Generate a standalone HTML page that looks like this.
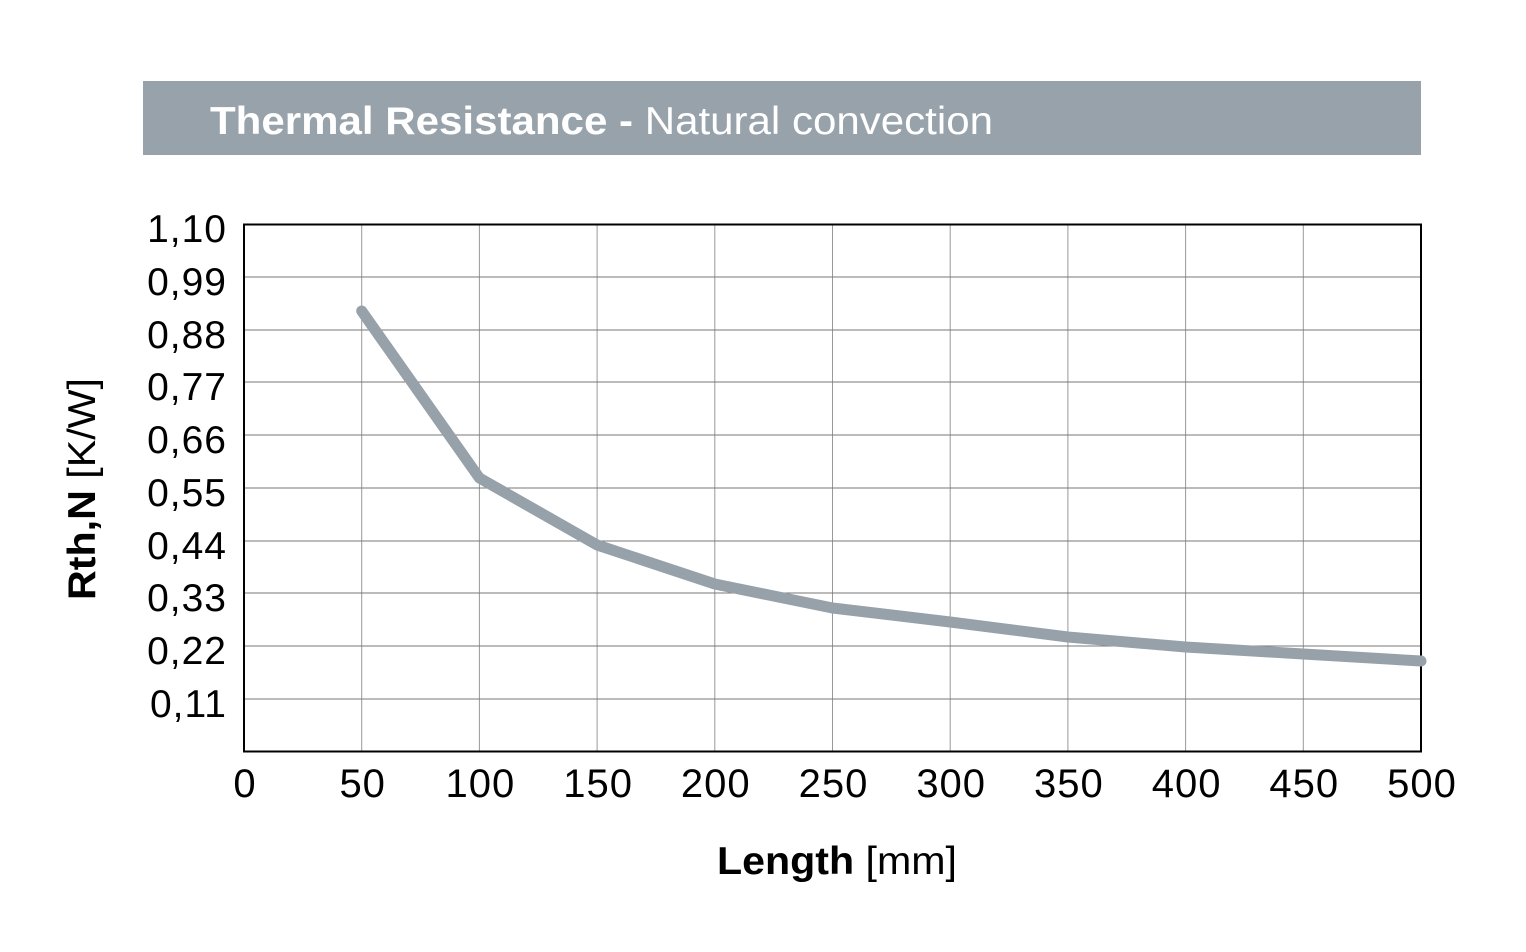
<!DOCTYPE html>
<html><head><style>html,body{margin:0;padding:0;background:#fff}</style></head><body>
<svg width="1526" height="947" viewBox="0 0 1526 947" xmlns="http://www.w3.org/2000/svg" font-family="Liberation Sans, Arial, sans-serif">
<rect x="143" y="81" width="1278" height="74" fill="#97a2aa"/>
<text x="210" y="134" font-size="39" fill="#fff" textLength="783" lengthAdjust="spacingAndGlyphs"><tspan font-weight="bold">Thermal Resistance - </tspan>Natural convection</text>
<g stroke-width="1">
<g stroke="#999">
<line x1="361.7" y1="224" x2="361.7" y2="752"/>
<line x1="479.4" y1="224" x2="479.4" y2="752"/>
<line x1="597.1" y1="224" x2="597.1" y2="752"/>
<line x1="714.8" y1="224" x2="714.8" y2="752"/>
<line x1="832.5" y1="224" x2="832.5" y2="752"/>
<line x1="950.2" y1="224" x2="950.2" y2="752"/>
<line x1="1067.9" y1="224" x2="1067.9" y2="752"/>
<line x1="1185.6" y1="224" x2="1185.6" y2="752"/>
<line x1="1303.3" y1="224" x2="1303.3" y2="752"/>
</g>
<g stroke="#777">
<line x1="244" y1="277" x2="1421" y2="277"/>
<line x1="244" y1="330" x2="1421" y2="330"/>
<line x1="244" y1="382" x2="1421" y2="382"/>
<line x1="244" y1="435" x2="1421" y2="435"/>
<line x1="244" y1="488" x2="1421" y2="488"/>
<line x1="244" y1="541" x2="1421" y2="541"/>
<line x1="244" y1="593" x2="1421" y2="593"/>
<line x1="244" y1="646" x2="1421" y2="646"/>
<line x1="244" y1="699" x2="1421" y2="699"/>
</g>
</g>
<rect x="244" y="224.5" width="1177" height="527" fill="none" stroke="#000" stroke-width="2"/>
<polyline points="361.7,311 479.4,478 597.1,545 714.8,584 832.5,608 950.2,622 1067.9,637 1185.6,647 1303.3,654 1421,661" fill="none" stroke="#96a1a9" stroke-width="11" stroke-linecap="round" stroke-linejoin="round"/>
<g font-size="39" fill="#000" text-anchor="end" letter-spacing="1">
<text x="227" y="242">1,10</text>
<text x="227" y="295">0,99</text>
<text x="227" y="348">0,88</text>
<text x="227" y="400">0,77</text>
<text x="227" y="453">0,66</text>
<text x="227" y="506">0,55</text>
<text x="227" y="559">0,44</text>
<text x="227" y="611">0,33</text>
<text x="227" y="664">0,22</text>
<text x="227" y="717">0,11</text>
</g>
<g font-size="40" fill="#000" text-anchor="middle" letter-spacing="1">
<text x="245" y="797">0</text>
<text x="362.7" y="797">50</text>
<text x="480.4" y="797">100</text>
<text x="598.1" y="797">150</text>
<text x="715.8" y="797">200</text>
<text x="833.5" y="797">250</text>
<text x="951.2" y="797">300</text>
<text x="1068.9" y="797">350</text>
<text x="1186.6" y="797">400</text>
<text x="1304.3" y="797">450</text>
<text x="1422" y="797">500</text>
</g>
<text x="717" y="874" font-size="39" textLength="240" lengthAdjust="spacingAndGlyphs"><tspan font-weight="bold">Length</tspan> [mm]</text>
<text transform="translate(95,600) rotate(-90)" font-size="39" textLength="222" lengthAdjust="spacingAndGlyphs"><tspan font-weight="bold">Rth,N</tspan> [K/W]</text>
</svg>
</body></html>
